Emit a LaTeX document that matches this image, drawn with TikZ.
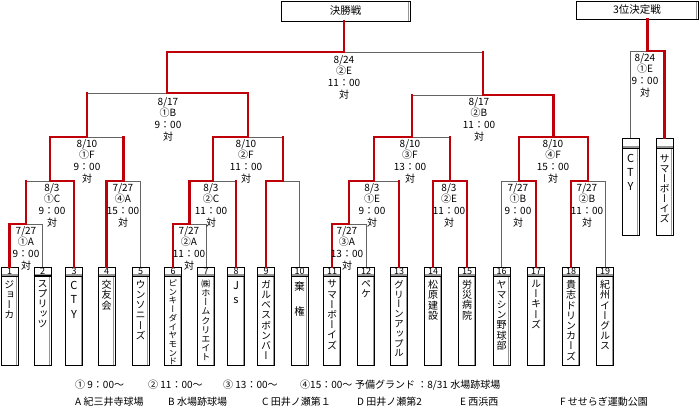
\documentclass[tikz,border=0pt]{standalone}
\usepackage{fontspec}
\setmainfont{Noto Sans CJK JP}
\newfontfamily\vjp[RawFeature=+vert]{Noto Sans CJK JP}
\definecolor{wr}{RGB}{192,0,8}
\definecolor{lg}{RGB}{100,100,100}
\definecolor{sh}{RGB}{150,150,150}
\tikzset{
 gl/.style={draw=lg, line width=0.9pt},
 rl/.style={draw=wr, line width=2.2pt, line cap=rect, line join=miter},
 lab/.style={anchor=north, align=center, inner sep=0pt, font=\fontsize{10}{11.5}\selectfont},
 rshadow/.style={path picture={\draw[sh, line width=1.2pt] ([xshift=-1.2pt]path picture bounding box.north east) -- ([xshift=-1.2pt]path picture bounding box.south east);}},
 hdr/.style={draw=black, line width=0.6pt, minimum width=17pt, minimum height=9pt, inner sep=0pt, fill=white, font=\fontsize{9}{9}\selectfont,
   path picture={\draw[sh, line width=1.2pt] ([yshift=1pt]path picture bounding box.south west) -- ([yshift=1pt]path picture bounding box.south east);}},
 bodyb/.style={draw=black, line width=0.6pt, minimum width=17pt, minimum height=89pt, inner sep=0pt, fill=white, rshadow},
 tname/.style={anchor=north, align=center, inner sep=0pt, font=\vjp\fontsize{10}{10.2}\selectfont},
 lat/.style={anchor=north, align=center, inner sep=0pt, font=\fontsize{11}{14.5}\selectfont},
 ttl/.style={draw=black, line width=0.6pt, inner sep=0pt, fill=white, font=\fontsize{10.5}{10.5}\selectfont, rshadow},
 leg/.style={anchor=west, inner sep=0pt, font=\fontsize{10}{10}\selectfont},
}
\begin{document}
\begin{tikzpicture}[x=1pt,y=-1pt]
\useasboundingbox (0,0) rectangle (700,413);
% ---------- titles ----------
\node[ttl, minimum width=129pt, minimum height=20pt] (fin) at (345.5,11) {決勝戦};
\node[ttl, minimum width=122pt, minimum height=18pt] (third) at (637,10) {3位決定戦};
% ---------- team boxes ----------
\foreach \i/\x in {1/9.5,2/42.5,3/74,4/106.5,5/140.5,6/173,7/206,8/236,9/266,10/299.5,11/332,12/366,13/399,14/433,15/467,16/501.5,17/536,18/571,19/605}{
  \node[bodyb] (b\i) at (\x,320.5) {};
  \node[hdr] (t\i) at (\x,271.5) {\i};
}
\draw[line width=1.3pt] ([yshift=0.6pt]t2.south west) -- ([yshift=0.6pt]t2.south east);
\node[tname] (n1) at (9.5,280) {ジ\\ョ\\ー\\カ};
\node[tname] (n2) at (42.5,280) {ス\\プ\\リ\\ッ\\ツ};
\node[lat] (n3) at (74,281) {C\\T\\Y};
\node[tname] (n4) at (106.5,280) {交\\友\\会};
\node[tname] (n5) at (140.5,280) {ウ\\ン\\ソ\\ニ\\ー\\ズ};
\node[tname, font=\vjp\fontsize{8.6}{8.7}\selectfont] (n6) at (173,279.5) {ピ\\ン\\キ\\ー\\ダ\\イ\\ヤ\\モ\\ン\\ド};
\node[tname, font=\vjp\fontsize{9.1}{9.2}\selectfont] (n7) at (206,279.5) {㈱\\ホ\\ー\\ム\\ク\\リ\\エ\\イ\\ト};
\node[lat, font=\fontsize{11}{14}\selectfont] (n8) at (236,281) {J\\s};
\node[tname] (n9) at (266,280) {ガ\\ル\\ベ\\ス\\ボ\\ン\\バ\\ー};
\node[tname, font=\vjp\fontsize{10.5}{25}\selectfont] (n10) at (299.5,281) {棄\\権};
\node[tname] (n11) at (332,280) {サ\\マ\\ー\\ボ\\ー\\イ\\ズ};
\node[tname] (n12) at (366,280) {ペ\\ケ};
\node[tname, font=\vjp\fontsize{9.7}{9.8}\selectfont] (n13) at (399,280) {グ\\リ\\ー\\ン\\ア\\ッ\\プ\\ル};
\node[tname] (n14) at (433,280) {松\\原\\建\\設};
\node[tname] (n15) at (467,280) {労\\災\\病\\院};
\node[tname] (n16) at (501.5,280) {ヤ\\マ\\シ\\ン\\野\\球\\部};
\node[tname] (n17) at (536,280) {ル\\ー\\キ\\ー\\ズ};
\node[tname] (n18) at (571,280) {貴\\志\\ド\\リ\\ン\\カ\\ー\\ズ};
\node[tname] (n19) at (605,280) {紀\\州\\イ\\ー\\グ\\ル\\ス};
% third-place boxes
\node[bodyb, minimum height=87pt] (cb) at (630.5,191.5) {};
\node[hdr, minimum height=10pt] (cty) at (630.5,143) {};
\node[bodyb, minimum height=87pt] (sb) at (664.5,191.5) {};
\node[hdr, minimum height=10pt] (smb) at (664.5,143) {};
\node[lat, font=\fontsize{11}{14}\selectfont] (nc) at (630.5,154) {C\\T\\Y};
\node[tname, font=\vjp\fontsize{10}{10}\selectfont] (ns) at (664.5,154.5) {サ\\マ\\ー\\ボ\\ー\\イ\\ズ};
% ---------- bracket coordinates ----------
\coordinate (m1l) at (9.5,224);  \coordinate (m1r) at (42.5,224); \coordinate (m1) at (26,224);
\coordinate (m2l) at (26,181);   \coordinate (m2r) at (74,181);   \coordinate (m2) at (50,181);
\coordinate (m3l) at (106.5,181);\coordinate (m3r) at (140.5,181);\coordinate (m3) at (123.5,181);
\coordinate (m4l) at (50,137);   \coordinate (m4r) at (123.5,137);\coordinate (m4) at (86.75,137);
\coordinate (m5l) at (173,224);  \coordinate (m5r) at (206,224);  \coordinate (m5) at (189.5,224);
\coordinate (m6l) at (189.5,181);\coordinate (m6r) at (236,181);  \coordinate (m6) at (212.75,181);
\coordinate (m7l) at (266,181);  \coordinate (m7r) at (299.5,181);\coordinate (m7) at (282.75,181);
\coordinate (m8l) at (212.75,137);\coordinate (m8r) at (282.75,137);\coordinate (m8) at (247.75,137);
\coordinate (s1l) at (86.75,93); \coordinate (s1r) at (247.75,93); \coordinate (s1) at (167.25,93);
\coordinate (m9l) at (332,224);  \coordinate (m9r) at (366,224);  \coordinate (m9) at (349,224);
\coordinate (m10l) at (349,181); \coordinate (m10r) at (399,181); \coordinate (m10) at (374,181);
\coordinate (m11l) at (433,181); \coordinate (m11r) at (467,181); \coordinate (m11) at (450,181);
\coordinate (m12l) at (374,137); \coordinate (m12r) at (450,137); \coordinate (m12) at (412,137);
\coordinate (m13l) at (501.5,181);\coordinate (m13r) at (536,181);\coordinate (m13) at (518.75,181);
\coordinate (m14l) at (571,181); \coordinate (m14r) at (605,181); \coordinate (m14) at (588,181);
\coordinate (m15l) at (518.75,137);\coordinate (m15r) at (588,137);\coordinate (m15) at (553.4,137);
\coordinate (s2l) at (412,95);   \coordinate (s2r) at (553.4,95);  \coordinate (s2) at (482.7,95);
\coordinate (fl) at (167.25,52); \coordinate (fr) at (482.7,52);   \coordinate (f) at (344,52);
\coordinate (tl) at (630.5,51);  \coordinate (tr) at (664.5,51);   \coordinate (tm) at (647.5,51);
% ---------- gray brackets ----------
\draw[gl] (t1.north) -- (m1l) -- (m1r) -- (t2.north);
\draw[gl] (m1) -- (m2l) -- (m2r) -- (t3.north);
\draw[gl] (t4.north) -- (m3l) -- (m3r) -- (t5.north);
\draw[gl] (m2) -- (m4l) -- (m4r) -- (m3);
\draw[gl] (t6.north) -- (m5l) -- (m5r) -- (t7.north);
\draw[gl] (m5) -- (m6l) -- (m6r) -- (t8.north);
\draw[gl] (t9.north) -- (m7l) -- (m7r) -- (t10.north);
\draw[gl] (m6) -- (m8l) -- (m8r) -- (m7);
\draw[gl] (m4) -- (s1l) -- (s1r) -- (m8);
\draw[gl] (t11.north) -- (m9l) -- (m9r) -- (t12.north);
\draw[gl] (m9) -- (m10l) -- (m10r) -- (t13.north);
\draw[gl] (t14.north) -- (m11l) -- (m11r) -- (t15.north);
\draw[gl] (m10) -- (m12l) -- (m12r) -- (m11);
\draw[gl] (t16.north) -- (m13l) -- (m13r) -- (t17.north);
\draw[gl] (t18.north) -- (m14l) -- (m14r) -- (t19.north);
\draw[gl] (m13) -- (m15l) -- (m15r) -- (m14);
\draw[gl] (m12) -- (s2l) -- (s2r) -- (m15);
\draw[gl] (s1) -- (fl) -- (fr) -- (s2);
\draw[gl] (cty.north) -- (tl) -- (tr) -- (smb.north);
% ---------- red (winning) paths ----------
\draw[rl] (t1.north) -- (m1l) -- (m1) -- (m2l);
\draw[rl] (t3.north) -- (m2r) -- (m2) -- (m4l) -- (m4) -- (s1l);
\draw[rl] (t4.north) -- (m3l) -- (m3) -- (m4r);
\draw[rl] (t6.north) -- (m5l) -- (m5) -- (m6l) -- (m6) -- (m8l) -- (m8) -- (s1r) -- (s1) -- (fl) -- (f) -- (f |- fin.south);
\draw[rl] (t8.north) -- (m6r);
\draw[rl] (t9.north) -- (m7l) -- (m7) -- (m8r);
\draw[rl] (t11.north) -- (m9l) -- (m9) -- (m10l) -- (m10) -- (m12l) -- (m12) -- (s2l);
\draw[rl] (t13.north) -- (m10r);
\draw[rl] (t14.north) -- (m11l) -- (m11r) -- (t15.north);
\draw[rl] (m11) -- (m12r);
\draw[rl] (t17.north) -- (m13r) -- (m13) -- (m15l) -- (m15r) -- (m14) -- (m14l) -- (t18.north);
\draw[rl] (m15) -- (s2r) -- (s2) -- (fr);
\draw[rl] (smb.north) -- (tr) -- (tm) -- (tm |- third.south);
% ---------- match labels ----------
\node[lab] (l1) at (26,226) {7/27\\①A\\9：00\\[1pt]対};
\node[lab] (l2) at (52,183) {8/3\\①C\\9：00\\[1pt]対};
\node[lab] (l3) at (123,183) {7/27\\④A\\15：00\\[1pt]対};
\node[lab] (l4) at (87,139) {8/10\\①F\\9：00\\[1pt]対};
\node[lab] (l5) at (189,226) {7/27\\②A\\11：00\\[1pt]対};
\node[lab] (l6) at (211,183) {8/3\\②C\\11：00\\[1pt]対};
\node[lab] (l8) at (246,139) {8/10\\②F\\11：00\\[1pt]対};
\node[lab] (ls1) at (168,97) {8/17\\①B\\9：00\\[1pt]対};
\node[lab] (lf) at (344,55) {8/24\\②E\\11：00\\[1pt]対};
\node[lab] (ls2) at (479,97) {8/17\\②B\\11：00\\[1pt]対};
\node[lab] (l9) at (347,226) {7/27\\③A\\13：00\\[1pt]対};
\node[lab] (l10) at (372,183) {8/3\\①E\\9：00\\[1pt]対};
\node[lab] (l11) at (449,183) {8/3\\②E\\11：00\\[1pt]対};
\node[lab] (l12) at (410,139) {8/10\\③F\\13：00\\[1pt]対};
\node[lab] (l13) at (518,183) {7/27\\①B\\9：00\\[1pt]対};
\node[lab] (l14) at (587,183) {7/27\\②B\\11：00\\[1pt]対};
\node[lab] (l15) at (553,139) {8/10\\④F\\15：00\\[1pt]対};
\node[lab] (lt) at (645,53) {8/24\\①E\\9：00\\[1pt]対};
% ---------- legend ----------
\node[leg] (g1) at (75,385) {① 9：00～};
\node[leg] (g2) at (148,385) {② 11：00～};
\node[leg] (g3) at (223,385) {③ 13：00～};
\node[leg] (g4) at (300,385) {④15：00～};
\node[leg] (g5) at (355,385) {予備グランド ：8/31 水場跡球場};
\node[leg] (h1) at (75,402) {A 紀三井寺球場};
\node[leg] (h2) at (168,402) {B 水場跡球場};
\node[leg] (h3) at (262,402) {C 田井ノ瀬第１};
\node[leg] (h4) at (357,402) {D 田井ノ瀬第2};
\node[leg] (h5) at (460,402) {E 西浜西};
\node[leg] (h6) at (560,402) {F せせらぎ運動公園};
\end{tikzpicture}
\end{document}
